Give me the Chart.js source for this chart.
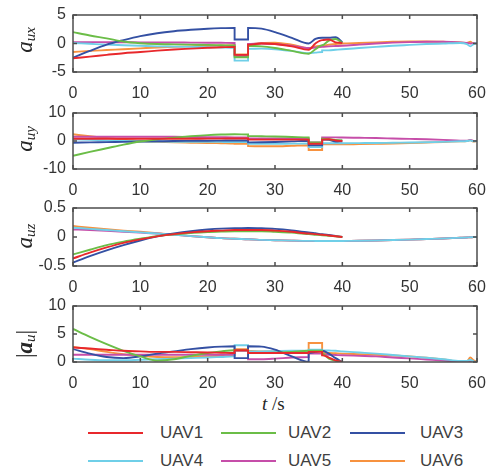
<!DOCTYPE html>
<html>
<head>
<meta charset="utf-8">
<script src="https://cdn.jsdelivr.net/npm/chart.js@4"></script>
<style>
  body { margin: 0; background: #fff; }
  #wrap { position: relative; width: 493px; height: 473px; background: #fff; overflow: hidden; }
  canvas { position: absolute; left: 0; }
  .ylab { position: absolute; left: 25px; transform: translate(-50%, -50%) rotate(-90deg);
          font-family: "Liberation Serif", serif; font-style: italic; font-size: 23px; color: #262626; white-space: nowrap; }
  .ylab sub { font-size: 15px; vertical-align: -3px; }
  .xlab { position: absolute; left: 262px; top: 393px; font-family: "Liberation Serif", serif; font-size: 19px; color: #262626; }
  .leg { position: absolute; font-family: "Liberation Sans", Arial, sans-serif; font-size: 17px; color: #404040; }
  .legline { position: absolute; height: 2px; width: 55px; }
</style>
</head>
<body>
<div id="wrap">
  <canvas id="c1" width="493" height="97" style="top:5px"></canvas>
  <canvas id="c2" width="493" height="96" style="top:103px"></canvas>
  <canvas id="c3" width="493" height="98" style="top:198px"></canvas>
  <canvas id="c4" width="493" height="96" style="top:296px"></canvas>
  <div class="ylab" style="top:40px">a<sub>ux</sub></div>
  <div class="ylab" style="top:139px">a<sub>uy</sub></div>
  <div class="ylab" style="top:236px">a<sub>uz</sub></div>
  <div class="ylab" style="top:344px; font-style:normal">|<b><i>a</i></b><sub><i>u</i></sub>|</div>
  <div class="xlab"><i>t</i> /s</div>
  <div id="legend"></div>
</div>
<script>
const NAMES = ["UAV1", "UAV2", "UAV3", "UAV4", "UAV5", "UAV6"];
const COLORS = ["#e8282c", "#6bbd47", "#3450a3", "#6fcfe8", "#c64ea9", "#f7923f"];

// time grid, steps are given as repeated times
const T = [0, 2.5, 5, 7.5, 10, 12.5, 15, 17.5, 20, 22, 24, 24, 26, 26, 28, 30, 32.5, 35, 35, 36, 37, 37, 38, 39, 40,
           42.5, 45, 47.5, 50, 52.5, 55, 57.5, 58.5, 59, 59.5, 60];
const END = [null, null, null, null, null, null, null, null, null, null, null];

const AX1 = [-2.6, -2.3, -2.0, -1.7, -1.5, -1.25, -1.05, -0.9, -0.75, -0.65, -0.6, -2.0, -2.0, -0.2, 0.0, -0.1, -0.5, -1.1, -1.1, 0.0, 0.6, 0.6, 0.7, 0.2, 0.1, ...END];
const AX2 = [2.0, 1.4, 0.9, 0.35, 0.05, -0.1, -0.15, -0.2, -0.25, -0.3, -0.35, -2.4, -2.4, -0.4, -0.5, -0.8, -1.3, -1.8, -1.8, -1.0, -0.3, -0.3, 0.5, 0.8, 0.1, ...END];
const AX3 = [-2.5, -1.3, -0.2, 0.6, 1.3, 1.8, 2.15, 2.4, 2.6, 2.7, 2.75, 0.7, 0.7, 2.75, 2.6, 2.0, 1.0, 0.0, 0.0, 0.8, 1.0, 1.0, 1.0, 1.1, 0.2, ...END];
const AX4 = [0.1, -0.05, -0.2, -0.3, -0.4, -0.5, -0.55, -0.6, -0.65, -0.7, -0.75, -3.0, -3.0, -0.95, -0.9, -1.0, -1.3, -1.7, -1.7, -1.6, -1.5, -1.2, -1.2, -1.1, -1.0,
             -0.8, -0.6, -0.4, -0.25, -0.1, 0.0, 0.1, -0.1, -0.5, -0.1, 0.1];
const AX5 = [0.25, 0.24, 0.23, 0.22, 0.2, 0.19, 0.18, 0.16, 0.14, 0.12, 0.1, -2.2, -2.2, -0.1, 0.0, -0.1, -0.4, -0.8, -0.8, -0.7, -0.6, -0.6, -0.5, -0.45, -0.4,
             -0.2, 0.0, 0.15, 0.25, 0.3, 0.3, 0.2, 0.1, 0.0, 0.05, 0.05];
const AX6 = [-1.5, -1.3, -1.15, -1.0, -0.85, -0.7, -0.6, -0.5, -0.4, -0.35, -0.3, -1.9, -1.9, -0.2, 0.1, 0.15, -0.2, -0.8, -0.8, -0.5, -0.4, -0.4, -0.2, -0.1, 0.0,
             0.1, 0.2, 0.3, 0.35, 0.35, 0.3, 0.2, 0.1, 0.3, 0.0, 0.05];

const AY1 = [0.8, 0.8, 0.8, 0.8, 0.8, 0.8, 0.8, 0.8, 0.85, 0.85, 0.9, 0.9, 0.9, 0.5, 0.5, 0.5, 0.5, 0.5, -1.0, -1.0, -1.0, 0.5, 0.6, 0.2, 0.0, ...END];
const AY2 = [-5.3, -3.9, -2.6, -1.3, -0.2, 0.6, 1.2, 1.7, 2.1, 2.3, 2.4, 2.4, 2.3, 1.8, 1.7, 1.6, 1.45, 1.3, -0.5, -0.5, -0.5, 0.8, 0.6, 0.4, 0.3, ...END];
const AY3 = [-0.6, -0.5, -0.4, -0.3, -0.2, -0.1, 0.0, 0.05, 0.1, 0.15, 0.2, 0.2, 0.2, -0.5, -0.45, -0.35, -0.15, 0.1, -1.5, -1.5, -1.5, 0.6, 0.4, -0.2, -0.1, ...END];
const AY4 = [0.6, 0.4, 0.2, 0.0, -0.15, -0.2, -0.25, -0.28, -0.3, -0.33, -0.35, -0.35, -0.35, -1.0, -1.0, -1.0, -0.95, -0.9, -2.2, -2.2, -2.2, -0.8, -0.8, -0.8, -0.8,
             -0.75, -0.7, -0.62, -0.55, -0.45, -0.3, -0.1, 0.0, 0.2, -0.1, 0.0];
const AY5 = [1.5, 1.5, 1.5, 1.5, 1.5, 1.5, 1.5, 1.45, 1.4, 1.35, 1.3, 1.3, 1.3, 0.9, 0.9, 0.9, 0.9, 0.9, -0.5, -0.5, -0.5, 1.3, 1.3, 1.3, 1.25,
             1.15, 1.05, 0.9, 0.75, 0.6, 0.4, 0.15, 0.1, 0.4, 0.0, 0.0];
const AY6 = [2.4, 1.7, 1.1, 0.5, 0.0, -0.3, -0.5, -0.6, -0.7, -0.8, -0.9, -1.0, -1.0, -1.8, -1.9, -1.9, -1.7, -1.5, -3.2, -3.2, -3.2, -1.2, -1.2, -1.2, -1.2,
             -1.1, -1.0, -0.9, -0.75, -0.55, -0.35, -0.1, 0.0, 0.3, -0.2, 0.0];

const AZ1 = [-0.37, -0.27, -0.18, -0.1, -0.04, 0.01, 0.05, 0.08, 0.1, 0.11, 0.12, 0.12, 0.12, 0.12, 0.12, 0.11, 0.09, 0.06, 0.06, 0.05, 0.04, 0.04, 0.025, 0.012, 0.0, ...END];
const AZ2 = [-0.3, -0.22, -0.14, -0.08, -0.03, 0.015, 0.045, 0.07, 0.085, 0.095, 0.1, 0.1, 0.1, 0.1, 0.1, 0.09, 0.075, 0.05, 0.05, 0.04, 0.03, 0.03, 0.02, 0.01, 0.0, ...END];
const AZ3 = [-0.44, -0.33, -0.23, -0.14, -0.06, 0.01, 0.06, 0.1, 0.13, 0.145, 0.15, 0.15, 0.155, 0.155, 0.15, 0.14, 0.115, 0.08, 0.08, 0.065, 0.05, 0.05, 0.035, 0.018, 0.0, ...END];
const AZ4 = [0.16, 0.14, 0.12, 0.1, 0.08, 0.06, 0.04, 0.015, -0.005, -0.02, -0.03, -0.03, -0.04, -0.04, -0.05, -0.055, -0.062, -0.066, -0.066, -0.068, -0.07, -0.07, -0.07, -0.07, -0.068,
             -0.065, -0.06, -0.053, -0.045, -0.035, -0.025, -0.013, -0.008, -0.005, -0.003, 0.0];
const AZ5 = [0.13, 0.12, 0.105, 0.09, 0.075, 0.06, 0.04, 0.015, -0.005, -0.02, -0.03, -0.03, -0.04, -0.04, -0.05, -0.055, -0.062, -0.066, -0.066, -0.068, -0.07, -0.07, -0.07, -0.07, -0.068,
             -0.065, -0.06, -0.053, -0.045, -0.035, -0.025, -0.013, -0.008, -0.005, -0.003, 0.0];
const AZ6 = [0.19, 0.16, 0.135, 0.11, 0.09, 0.065, 0.04, 0.015, -0.005, -0.02, -0.03, -0.03, -0.04, -0.04, -0.05, -0.055, -0.062, -0.066, -0.066, -0.068, -0.07, -0.07, -0.07, -0.07, -0.068,
             -0.065, -0.06, -0.053, -0.045, -0.035, -0.025, -0.013, -0.008, -0.005, -0.003, 0.0];

const AU1 = [2.6, 2.4, 2.2, 2.0, 1.9, 1.8, 1.8, 1.75, 1.7, 1.65, 1.6, 2.1, 2.1, 1.6, 1.6, 1.6, 1.6, 1.6, 1.8, 1.8, 1.8, 1.2, 0.8, 0.3, 0.0, ...END];
const AU2 = [5.9, 4.5, 3.2, 2.0, 1.0, 0.25, 0.5, 1.1, 1.6, 1.9, 2.1, 2.1, 2.1, 1.6, 1.6, 1.65, 1.8, 2.0, 2.0, 2.0, 2.0, 1.5, 0.6, 0.2, 0.0, ...END];
const AU3 = [2.3, 1.5, 0.9, 0.7, 1.0, 1.5, 1.9, 2.3, 2.6, 2.75, 2.8, 0.7, 0.7, 2.8, 2.75, 2.2, 1.0, 0.05, 1.6, 1.8, 2.0, 2.0, 1.5, 0.7, 0.0, ...END];
const AU4 = [0.6, 0.4, 0.3, 0.3, 0.4, 0.5, 0.6, 0.7, 0.8, 0.9, 1.0, 3.0, 3.0, 1.9, 1.9, 1.95, 2.0, 2.0, 2.2, 2.2, 2.2, 2.1, 2.05, 2.0, 1.9,
             1.7, 1.5, 1.25, 1.0, 0.75, 0.5, 0.2, 0.2, 0.4, 0.1, 0.0];
const AU5 = [1.3, 1.3, 1.3, 1.3, 1.3, 1.3, 1.3, 1.3, 1.3, 1.3, 1.3, 2.0, 2.0, 0.5, 0.5, 0.6, 0.8, 0.9, 1.5, 1.5, 1.5, 1.3, 1.3, 1.25, 1.2,
             1.1, 1.0, 0.8, 0.65, 0.45, 0.25, 0.05, 0.0, 0.1, 0.05, 0.0];
const AU6 = [2.7, 2.3, 1.8, 1.4, 1.1, 0.9, 0.85, 0.9, 1.0, 1.1, 1.2, 2.3, 2.3, 2.0, 1.9, 1.9, 1.8, 1.7, 3.4, 3.4, 3.4, 1.6, 1.6, 1.55, 1.5,
             1.4, 1.3, 1.15, 1.0, 0.75, 0.45, 0.1, 0.1, 0.8, 0.3, 0.0];

const TICK_FONT = { family: "'Liberation Sans', Arial, sans-serif", size: 16 };
const AXIS_COLOR = "#4d4d4d";

/* box round the plot with inward ticks on all four sides */
const boxPlugin = {
  id: "box",
  afterDatasetsDraw(chart) {
    const { ctx, chartArea: a, scales } = chart;
    ctx.save();
    ctx.strokeStyle = AXIS_COLOR;
    ctx.lineWidth = 1.5;
    ctx.beginPath();
    scales.x.ticks.forEach((t) => {
      const px = scales.x.getPixelForValue(t.value);
      ctx.moveTo(px, a.bottom); ctx.lineTo(px, a.bottom - 4);
      ctx.moveTo(px, a.top); ctx.lineTo(px, a.top + 4);
    });
    scales.y.ticks.forEach((t) => {
      const py = scales.y.getPixelForValue(t.value);
      ctx.moveTo(a.left, py); ctx.lineTo(a.left + 4, py);
      ctx.moveTo(a.right, py); ctx.lineTo(a.right - 4, py);
    });
    ctx.stroke();
    ctx.strokeRect(a.left, a.top, a.right - a.left, a.bottom - a.top);
    ctx.restore();
  },
};

function makeChart(id, series, yMin, yMax, yStep) {
  return new Chart(document.getElementById(id), {
    type: "line",
    data: {
      labels: T,
      datasets: series.map((d, i) => ({
        label: NAMES[i],
        data: d,
        borderColor: COLORS[i],
        borderWidth: 1.9,
        pointRadius: 0,
        cubicInterpolationMode: "monotone",
        fill: false,
      })),
    },
    options: {
      responsive: false,
      animation: false,
      devicePixelRatio: 1,
      layout: { padding: { top: 10, right: 16, left: 0, bottom: 0 } },
      plugins: { legend: { display: false }, tooltip: { enabled: false } },
      scales: {
        x: {
          type: "linear",
          min: 0,
          max: 60,
          ticks: { stepSize: 10, font: TICK_FONT, color: "#333", padding: 12, maxRotation: 0, autoSkip: false },
          grid: { display: false, drawTicks: false },
          border: { display: false },
          afterFit: (s) => { s.height = 30; s.paddingLeft = 0; s.paddingRight = 0; },
        },
        y: {
          min: yMin,
          max: yMax,
          ticks: { stepSize: yStep, font: TICK_FONT, color: "#333", padding: 7 },
          grid: { display: false, drawTicks: false },
          border: { display: false },
          afterFit: (s) => { s.width = 73; s.paddingTop = 0; s.paddingBottom = 0; },
        },
      },
    },
    plugins: [boxPlugin],
  });
}

makeChart("c1", [AX1, AX2, AX3, AX4, AX5, AX6], -5, 5, 5);
makeChart("c2", [AY1, AY2, AY3, AY4, AY5, AY6], -10, 10, 10);
makeChart("c3", [AZ1, AZ2, AZ3, AZ4, AZ5, AZ6], -0.5, 0.5, 0.5);
makeChart("c4", [AU1, AU2, AU3, AU4, AU5, AU6], 0, 10, 5);

/* legend, 2 rows of 3 */
const legend = document.getElementById("legend");
const colLine = [88, 221, 350];
const colText = [160, 288, 420];
const rowY = [433, 461];
NAMES.forEach((name, i) => {
  const r = Math.floor(i / 3), c = i % 3;
  const line = document.createElement("div");
  line.className = "legline";
  line.style.left = colLine[c] + "px";
  line.style.top = (rowY[r] - 1) + "px";
  line.style.background = COLORS[i];
  legend.appendChild(line);
  const txt = document.createElement("div");
  txt.className = "leg";
  txt.style.left = colText[c] + "px";
  txt.style.top = (rowY[r] - 10) + "px";
  txt.textContent = name;
  legend.appendChild(txt);
});
</script>
</body>
</html>
